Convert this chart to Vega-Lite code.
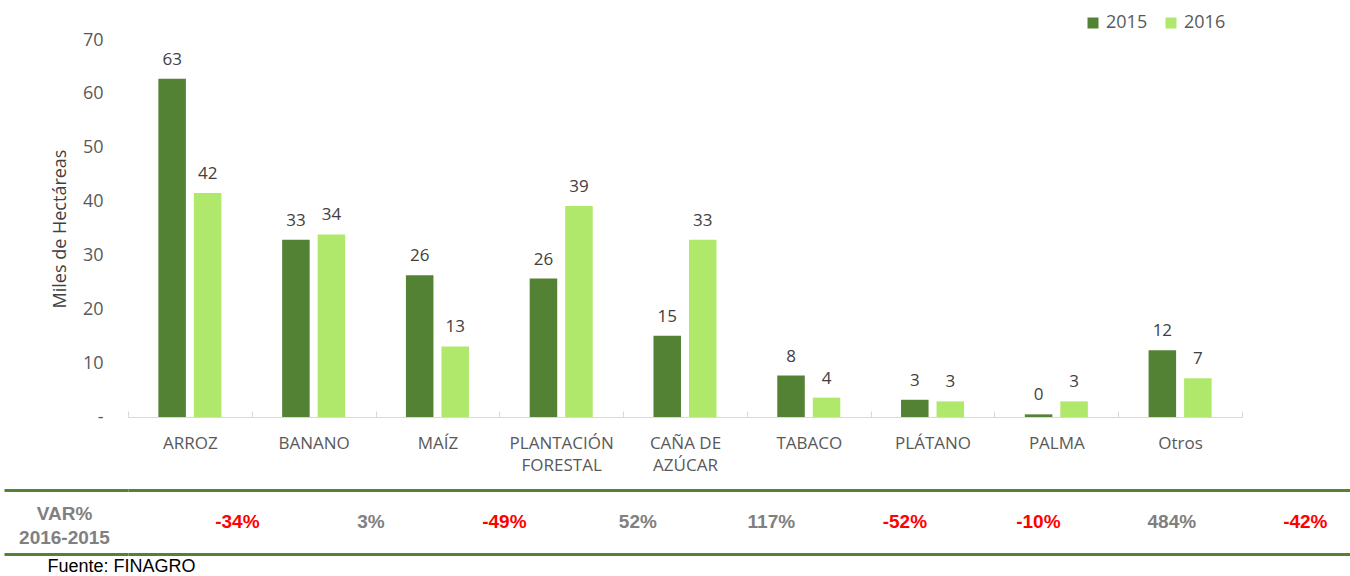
{
  "$schema": "https://vega.github.io/schema/vega-lite/v6.json",
  "background": "white",
  "padding": {"left": 2, "top": 14, "right": 0, "bottom": 0},
  "spacing": 15,
  "datasets": {
    "areas": [
      {"cultivo": "ARROZ", "anio": "2015", "miles_ha": 62.8},
      {"cultivo": "ARROZ", "anio": "2016", "miles_ha": 41.6},
      {"cultivo": "BANANO", "anio": "2015", "miles_ha": 32.9},
      {"cultivo": "BANANO", "anio": "2016", "miles_ha": 33.9},
      {"cultivo": "MAÍZ", "anio": "2015", "miles_ha": 26.3},
      {"cultivo": "MAÍZ", "anio": "2016", "miles_ha": 13.1},
      {"cultivo": "PLANTACIÓN FORESTAL", "anio": "2015", "miles_ha": 25.7},
      {"cultivo": "PLANTACIÓN FORESTAL", "anio": "2016", "miles_ha": 39.2},
      {"cultivo": "CAÑA DE AZÚCAR", "anio": "2015", "miles_ha": 15.1},
      {"cultivo": "CAÑA DE AZÚCAR", "anio": "2016", "miles_ha": 32.9},
      {"cultivo": "TABACO", "anio": "2015", "miles_ha": 7.7},
      {"cultivo": "TABACO", "anio": "2016", "miles_ha": 3.6},
      {"cultivo": "PLÁTANO", "anio": "2015", "miles_ha": 3.2},
      {"cultivo": "PLÁTANO", "anio": "2016", "miles_ha": 2.9},
      {"cultivo": "PALMA", "anio": "2015", "miles_ha": 0.49},
      {"cultivo": "PALMA", "anio": "2016", "miles_ha": 2.9},
      {"cultivo": "Otros", "anio": "2015", "miles_ha": 12.4},
      {"cultivo": "Otros", "anio": "2016", "miles_ha": 7.2}
    ],
    "variacion": [
      {"cultivo": "ARROZ", "var": "-34%"},
      {"cultivo": "BANANO", "var": "3%"},
      {"cultivo": "MAÍZ", "var": "-49%"},
      {"cultivo": "PLANTACIÓN FORESTAL", "var": "52%"},
      {"cultivo": "CAÑA DE AZÚCAR", "var": "117%"},
      {"cultivo": "TABACO", "var": "-52%"},
      {"cultivo": "PLÁTANO", "var": "-10%"},
      {"cultivo": "PALMA", "var": "484%"},
      {"cultivo": "Otros", "var": "-42%"}
    ]
  },
  "title": {
    "text": "Fuente: FINAGRO",
    "orient": "bottom",
    "anchor": "start",
    "frame": "bounds",
    "dx": 45,
    "offset": 2,
    "font": "Liberation Sans",
    "fontSize": 18,
    "fontWeight": "normal",
    "color": "#000000"
  },
  "resolve": {"scale": {"x": "independent", "y": "independent"}},
  "vconcat": [
    {
      "width": 1114,
      "height": 377,
      "data": {"name": "areas"},
      "encoding": {
        "x": {
          "field": "cultivo",
          "type": "nominal",
          "sort": ["ARROZ", "BANANO", "MAÍZ", "PLANTACIÓN FORESTAL", "CAÑA DE AZÚCAR", "TABACO", "PLÁTANO", "PALMA", "Otros"],
          "scale": {"paddingInner": 0, "paddingOuter": 0},
          "axis": {
            "title": null,
            "labelAngle": 0,
            "labelFont": "Open Sans",
            "labelFontSize": 17,
            "labelColor": "#595959",
            "labelLineHeight": 22,
            "labelPadding": 24,
            "domainColor": "#d9d9d9",
            "tickColor": "#d9d9d9",
            "tickBand": "extent",
            "tickSize": -6,
            "labelExpr": "datum.label == 'PLANTACIÓN FORESTAL' ? ['PLANTACIÓN', 'FORESTAL'] : datum.label == 'CAÑA DE AZÚCAR' ? ['CAÑA DE', 'AZÚCAR'] : datum.label"
          }
        },
        "xOffset": {
          "field": "anio",
          "type": "nominal",
          "scale": {"paddingInner": 0.225, "paddingOuter": 0.855}
        },
        "y": {
          "field": "miles_ha",
          "type": "quantitative",
          "scale": {"domain": [0, 70], "nice": false},
          "axis": {
            "title": "Miles de Hectáreas",
            "values": [0, 10, 20, 30, 40, 50, 60, 70],
            "grid": false,
            "domain": false,
            "ticks": false,
            "tickSize": 0,
            "labelPadding": 25,
            "labelFont": "Open Sans",
            "labelFontSize": 18,
            "labelColor": "#595959",
            "labelExpr": "datum.value === 0 ? '-' : datum.label",
            "titleFont": "Open Sans",
            "titleFontSize": 18,
            "titleFontWeight": "normal",
            "titleColor": "#404040",
            "titlePadding": 13
          }
        }
      },
      "layer": [
        {
          "mark": {"type": "bar"},
          "encoding": {
            "color": {
              "field": "anio",
              "type": "nominal",
              "scale": {"domain": ["2015", "2016"], "range": ["#548235", "#B0E86C"]},
              "legend": {
                "title": null,
                "orient": "none",
                "legendX": 956,
                "legendY": -26,
                "direction": "horizontal",
                "symbolType": "square",
                "symbolSize": 121,
                "symbolStrokeWidth": 0,
                "labelFont": "Open Sans",
                "labelFontSize": 18,
                "labelColor": "#595959",
                "labelOffset": 4,
                "columnPadding": 14,
                "padding": 0
              }
            }
          }
        },
        {
          "mark": {"type": "text", "baseline": "alphabetic", "dy": -14, "font": "Open Sans", "fontSize": 17, "color": "#404040"},
          "encoding": {
            "text": {"field": "miles_ha", "type": "quantitative", "format": ".0f"}
          }
        }
      ]
    },
    {
      "width": 1222,
      "height": 64,
      "data": {"name": "variacion"},
      "mark": {"type": "text", "font": "Liberation Sans Narrow, Liberation Sans", "fontSize": 19, "fontWeight": "bold", "baseline": "middle"},
      "encoding": {
        "x": {
          "field": "cultivo",
          "type": "nominal",
          "sort": ["ARROZ", "BANANO", "MAÍZ", "PLANTACIÓN FORESTAL", "CAÑA DE AZÚCAR", "TABACO", "PLÁTANO", "PALMA", "Otros"],
          "scale": {"type": "point", "padding": 0.577, "align": 0.71},
          "axis": null
        },
        "y": {
          "datum": 0.5,
          "type": "quantitative",
          "scale": {"domain": [0, 1], "nice": false, "zero": false},
          "axis": {
            "values": [0, 1],
            "grid": true,
            "gridColor": "#548235",
            "gridWidth": 3,
            "gridOpacity": 1,
            "ticks": true,
            "tickSize": 124,
            "tickColor": "#548235",
            "tickWidth": 3,
            "domain": false,
            "labels": false,
            "title": ["VAR%", "2016-2015"],
            "titleAngle": 0,
            "titleX": -64,
            "titleY": 23,
            "titleAlign": "center",
            "titleBaseline": "middle",
            "titleFont": "Liberation Sans Narrow, Liberation Sans",
            "titleFontSize": 19,
            "titleFontWeight": "bold",
            "titleColor": "#808080",
            "titleLineHeight": 24
          }
        },
        "text": {"field": "var", "type": "nominal"},
        "color": {
          "condition": {"test": "indexof(datum['var'], '-') === 0", "value": "#FF0000"},
          "value": "#808080"
        }
      }
    }
  ],
  "config": {
    "view": {"stroke": null},
    "font": "Open Sans"
  }
}
